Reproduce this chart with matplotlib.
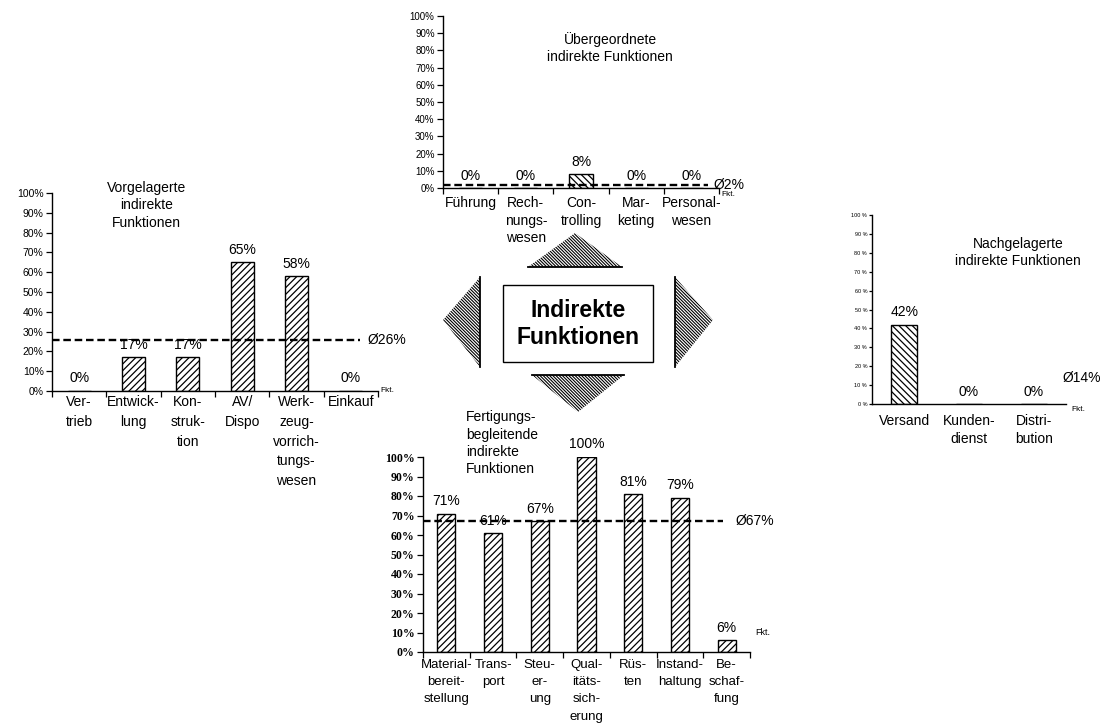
import matplotlib
matplotlib.use("Agg")
import matplotlib.pyplot as plt
from matplotlib.patches import Polygon, Rectangle
import numpy as np

plt.rcParams["font.family"] = ["Liberation Sans", "DejaVu Sans"]
plt.rcParams["hatch.linewidth"] = 0.9

# ---- data -------------------------------------------------------------
vor_labels = ["Ver-\ntrieb", "Entwick-\nlung", "Kon-\nstruk-\ntion", "AV/\nDispo",
              "Werk-\nzeug-\nvorrich-\ntungs-\nwesen", "Einkauf"]
vor_values = [0, 17, 17, 65, 58, 0]
vor_avg = 26

ueber_labels = ["Führung", "Rech-\nnungs-\nwesen", "Con-\ntrolling", "Mar-\nketing",
                "Personal-\nwesen"]
ueber_values = [0, 0, 8, 0, 0]
ueber_avg = 2

nach_labels = ["Versand", "Kunden-\ndienst", "Distri-\nbution"]
nach_values = [42, 0, 0]
nach_avg = 14

fert_labels = ["Material-\nbereit-\nstellung", "Trans-\nport", "Steu-\ner-\nung",
               "Qual-\nitäts-\nsich-\nerung", "Rüs-\nten", "Instand-\nhaltung",
               "Be-\nschaf-\nfung"]
fert_values = [71, 61, 67, 100, 81, 79, 6]
fert_avg = 67

pct_ticks = list(range(0, 101, 10))

# ---- figure -------------------------------------------------------------
W, H = 1105, 724
fig = plt.figure(figsize=(W / 100, H / 100), dpi=100)
fig.patch.set_facecolor("white")


def px_axes(x0, y_top, x1, y_bot):
    return fig.add_axes([x0 / W, 1 - y_bot / H, (x1 - x0) / W, (y_bot - y_top) / H])


def panel(ax, labels, values, avg, hatch, bar_w, tick_fmt, tick_font,
          label_fs, label_ls, label_pad, avg_line_end, avg_text_x,
          boundary_ticks=True, draw_avg_line=True):
    n = len(values)
    x = np.arange(n)
    ax.bar(x, values, width=bar_w, color="white", edgecolor="black",
           hatch=hatch, linewidth=1.0, zorder=2)
    ax.set_xlim(-0.5, n - 0.5)
    ax.set_ylim(0, 100)
    ax.patch.set_alpha(0)
    for s in ("top", "right"):
        ax.spines[s].set_visible(False)
    for s in ("left", "bottom"):
        ax.spines[s].set_linewidth(1.0)
    ax.set_yticks(pct_ticks)
    ax.set_yticklabels([tick_fmt.format(t) for t in pct_ticks], **tick_font)
    ax.tick_params(axis="y", length=4, width=0.9, pad=2, direction="out")
    ax.set_xticks(x)
    ax.set_xticklabels(labels, fontsize=label_fs, linespacing=label_ls)
    ax.tick_params(axis="x", which="major", length=0, pad=label_pad)
    if boundary_ticks:
        ax.set_xticks(np.arange(n + 1) - 0.5, minor=True)
        ax.tick_params(axis="x", which="minor", length=4, width=0.9, direction="out")
    for xi, v in zip(x, values):
        ax.annotate(f"{v}%", (xi, v), xytext=(0, 9), textcoords="offset points",
                    ha="center", va="center", fontsize=10)
    if draw_avg_line:
        ax.plot([0, avg_line_end], [avg, avg], transform=ax.get_yaxis_transform(),
                color="black", lw=1.7, dashes=(3.2, 1.6), clip_on=False, zorder=3)
    ax.text(avg_text_x, avg, f"Ø{avg}%", transform=ax.get_yaxis_transform(),
            ha="left", va="center", fontsize=10)


bar_hatch_ne = "/" * 5
bar_hatch_nw = "\\" * 5

# Vorgelagerte indirekte Funktionen
ax_v = px_axes(52, 193, 378, 391)
panel(ax_v, vor_labels, vor_values, vor_avg, bar_hatch_ne, 0.42, "{}%",
      dict(fontsize=7.5), 10, 1.52, 3, 0.945, 0.967)
ax_v.text(0.29, 0.937, "Vorgelagerte\nindirekte\nFunktionen", transform=ax_v.transAxes,
          ha="center", va="center", fontsize=10, linespacing=1.3)
ax_v.text(1.008, 0.0, "Fkt.", transform=ax_v.transAxes, ha="left", va="center", fontsize=6)

# Übergeordnete indirekte Funktionen
ax_u = px_axes(443, 16, 719, 188)
panel(ax_u, ueber_labels, ueber_values, ueber_avg, bar_hatch_nw, 0.42, "{}%",
      dict(fontsize=7), 10, 1.3, 6, 0.96, 0.98)
ax_u.text(0.605, 0.814, "Übergeordnete\nindirekte Funktionen", transform=ax_u.transAxes,
          ha="center", va="center", fontsize=10, linespacing=1.3)
ax_u.text(1.01, -0.04, "Fkt.", transform=ax_u.transAxes, ha="left", va="center", fontsize=6)

# Nachgelagerte indirekte Funktionen
ax_n = px_axes(872, 215, 1066, 404)
panel(ax_n, nach_labels, nach_values, nach_avg, bar_hatch_nw, 0.40, "{} %",
      dict(fontsize=4), 10, 1.35, 7, 0.98, 0.98, boundary_ticks=False,
      draw_avg_line=False)
ax_n.tick_params(axis="y", length=2.5, pad=1)
ax_n.text(0.753, 0.80, "Nachgelagerte\nindirekte Funktionen", transform=ax_n.transAxes,
          ha="center", va="center", fontsize=10, linespacing=1.3)
ax_n.text(1.03, -0.03, "Fkt.", transform=ax_n.transAxes, ha="left", va="center", fontsize=6)

# Fertigungsbegleitende indirekte Funktionen
ax_f = px_axes(423, 457, 750, 652)
panel(ax_f, fert_labels, fert_values, fert_avg, bar_hatch_ne, 0.39, "{}%",
      dict(fontsize=8.5, fontweight="bold", family="Liberation Serif"),
      9.5, 1.58, 5, 0.917, 0.955)
ax_f.text(0.131, 1.07, "Fertigungs-\nbegleitende\nindirekte\nFunktionen",
          transform=ax_f.transAxes, ha="left", va="center", fontsize=10, linespacing=1.3)
ax_f.text(1.015, 0.10, "Fkt.", transform=ax_f.transAxes, ha="left", va="center", fontsize=6.5)

# ---- central diagram: box with four hatched arrows -------------------------
ax_c = fig.add_axes([0, 0, 1, 1], zorder=-1)
ax_c.set_xlim(0, W)
ax_c.set_ylim(0, H)
ax_c.axis("off")


def up(pts):
    # pixel rows counted from the top edge -> axes y counted from the bottom
    return [(px, H - py) for px, py in pts]


triangles = [
    [(528, 267), (622, 267), (575, 233)],   # up
    [(532, 375), (624, 375), (578, 412)],   # down
    [(480, 277), (480, 367), (443, 320)],   # left
    [(675, 277), (675, 367), (713, 320)],   # right
]
for tri in triangles:
    pts = np.array(up(tri), dtype=float)
    shape = Polygon(pts, closed=True, facecolor="none", edgecolor="none")
    ax_c.add_patch(shape)
    # dense diagonal shading, falling from upper left to lower right
    x0, x1 = pts[:, 0].min() - 5, pts[:, 0].max() + 5
    y0, y1 = pts[:, 1].min() - 5, pts[:, 1].max() + 5
    for c in np.arange(x0 + y0, x1 + y1, 3.2):
        ln, = ax_c.plot([x0, x1], [c - x0, c - x1], color="black", lw=0.8,
                        solid_capstyle="butt")
        ln.set_clip_path(shape)
    (xa, ya), (xb, yb) = pts[0], pts[1]
    ax_c.plot([xa, xb], [ya, yb], color="black", lw=1.3)

ax_c.add_patch(Rectangle((503, H - 362), 150, 77, facecolor="white", edgecolor="black",
                         linewidth=1.0))
ax_c.text(578, H - 324, "Indirekte\nFunktionen", ha="center", va="center",
          fontsize=16.5, fontweight="bold", linespacing=1.2)

fig.savefig("out.png", dpi=100, facecolor="white")
